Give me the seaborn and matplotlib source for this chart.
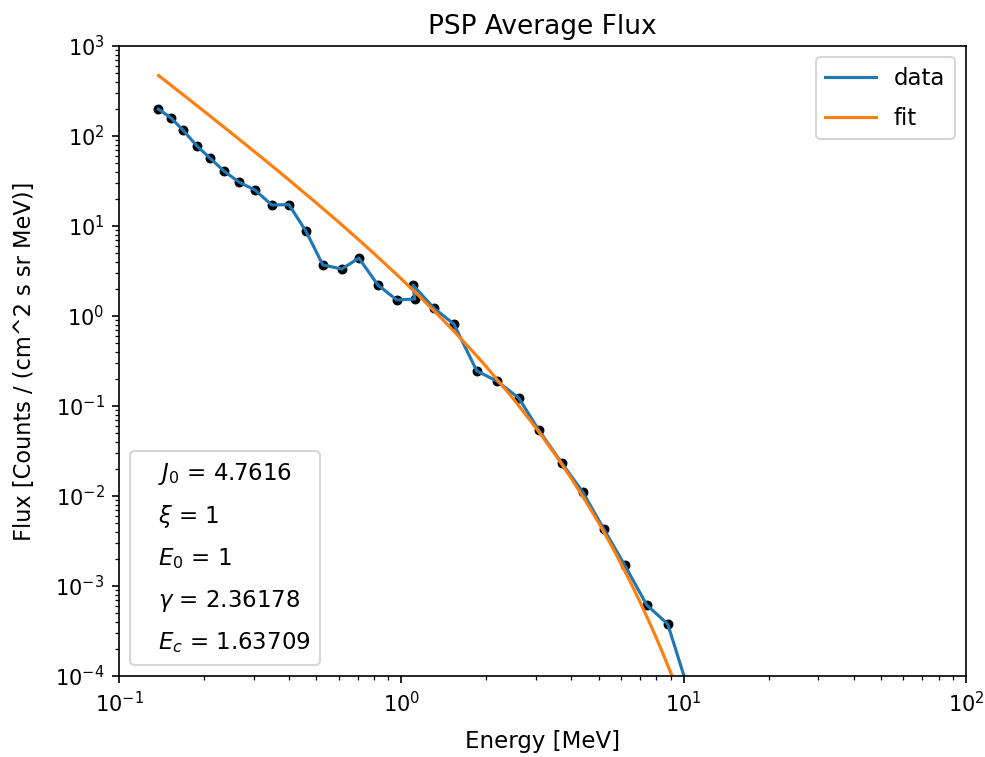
import matplotlib
matplotlib.use("Agg")
import matplotlib.pyplot as plt
from matplotlib.lines import Line2D
from matplotlib.ticker import LogFormatterSciNotation
import seaborn as sns
import pandas as pd

# Measured data
energy = [0.1379, 0.1528, 0.1684, 0.1888, 0.2099, 0.2353, 0.266, 0.303, 0.348,
          0.3997, 0.459, 0.5274, 0.6158, 0.707, 0.826, 0.964, 1.116, 1.098,
          1.303, 1.534, 1.851, 2.178, 2.606, 3.066, 3.699, 4.39, 5.21, 6.18,
          7.40, 8.78, 10.42]
flux = [199.5, 158.5, 116.6, 77.4, 56.9, 40.8, 30.8, 25.1, 17.1,
        17.3, 8.80, 3.69, 3.33, 4.41, 2.21, 1.506, 1.545, 2.21,
        1.227, 0.815, 0.245, 0.1896, 0.1227, 0.0541, 0.02326, 0.01108, 0.0043, 0.00171,
        6.15e-4, 3.78e-4, 6.8e-5]

# Fitted curve values
fit_energy = [0.138, 0.15, 0.175, 0.2, 0.25, 0.3, 0.35, 0.4, 0.5, 0.6, 0.7, 0.8,
              1.0, 1.2, 1.4, 1.6, 1.8, 2.0, 2.5, 3.0, 3.5, 4.0, 4.5, 5.0, 5.5,
              6.0, 6.5, 7.0, 7.5, 8.0, 8.5, 9.0, 9.5, 10.0, 10.4]
fit_flux = [470.5, 383.6, 262.5, 188.6, 107.98, 68.09, 45.89, 32.47, 18.03, 11.03,
            7.210, 4.947, 2.585, 1.4874, 0.9146, 0.5906, 0.3957, 0.2731, 0.1188,
            0.05689, 0.02913, 0.01566, 0.008734, 0.005016, 0.002952, 0.001771,
            0.001080, 6.68e-4, 4.18e-4, 2.646e-4, 1.689e-4, 1.087e-4, 7.05e-5,
            4.60e-5, 3.29e-5]

x_ticks = [0.1, 1, 10, 100]
y_ticks = [1e-4, 1e-3, 1e-2, 1e-1, 1, 10, 100, 1000]

param_labels = [r"$J_0$ = 4.7616", r"$\xi$ = 1", r"$E_0$ = 1",
                r"$\gamma$ = 2.36178", r"$E_c$ = 1.63709"]

df = pd.DataFrame({"energy": energy, "flux": flux})
df_fit = pd.DataFrame({"energy": fit_energy, "flux": fit_flux})

fig = plt.figure(figsize=(985 / 150, 757 / 150), dpi=150)
ax = fig.add_axes([119 / 985, 1 - 676 / 757, (966 - 119) / 985, (676 - 46) / 757])

sns.lineplot(data=df, x="energy", y="flux", sort=False, estimator=None,
             color="C0", label="data", ax=ax)
sns.scatterplot(data=df, x="energy", y="flux", color="k", s=18, edgecolor="k",
                linewidth=0.5, legend=False, ax=ax, zorder=1)
sns.lineplot(data=df_fit, x="energy", y="flux", sort=False, estimator=None,
             color="C1", label="fit", ax=ax)

ax.set_xscale("log")
ax.set_yscale("log")
ax.set_xticks(x_ticks)
ax.set_yticks(y_ticks)
ax.xaxis.set_major_formatter(LogFormatterSciNotation())
ax.yaxis.set_major_formatter(LogFormatterSciNotation())
ax.set_xlim(0.1, 100)
ax.set_ylim(1e-4, 1e3)
ax.set_xlabel("Energy [MeV]", fontsize=11, labelpad=7)
ax.set_ylabel("Flux [Counts / (cm^2 s sr MeV)]", fontsize=10.8, labelpad=9)
ax.set_title("PSP Average Flux", fontsize=12.7)

leg1 = ax.legend(loc="upper right", fontsize=11, labelspacing=0.76,
                 handlelength=2.2)
ax.add_artist(leg1)

empty = [Line2D([], [], linestyle="none") for _ in param_labels]
ax.legend(empty, param_labels, loc="lower left", fontsize=11,
          labelspacing=0.72, handlelength=0)

fig.savefig("out.png", dpi=150)
